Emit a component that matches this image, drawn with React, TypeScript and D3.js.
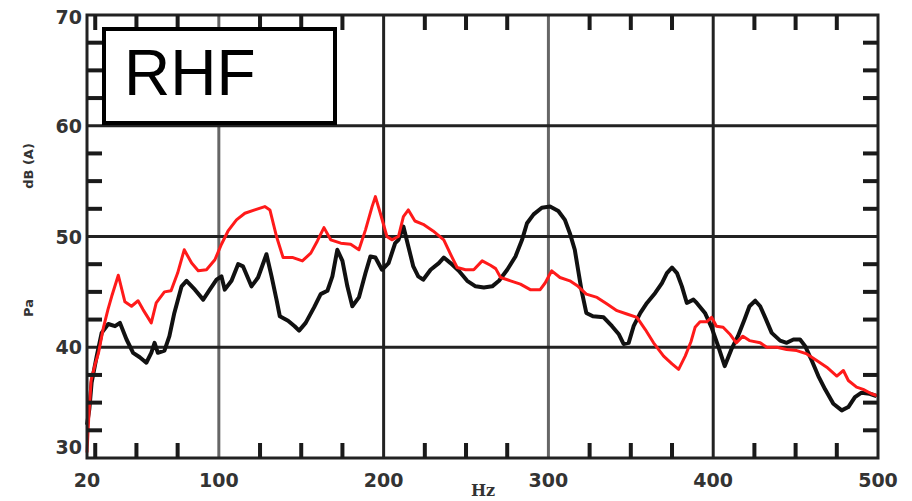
import React from "react";
import * as d3 from "d3";

// red trace (Hz, dB(A))
const redHz = [20, 21, 22.5, 25, 27, 30, 32.7, 35, 39, 43, 47, 51, 54, 59, 62, 67, 71, 75, 79, 83.5, 87.5, 92.5, 97.6, 101.6, 105.6, 110.7, 115.8, 121.8, 127.9, 131, 135, 139, 145, 150.7, 155.8, 159.8, 163.8, 167.9, 174, 180, 185, 189, 193, 195, 198, 202, 205, 209, 212, 215, 219, 224, 230, 236.5, 240.6, 244.6, 249.7, 254.7, 259.8, 264.8, 268, 271, 277, 283, 289, 295, 298, 302, 307, 313, 318, 323, 329.5, 335.6, 341.6, 347.6, 353.7, 358.8, 363.8, 369.9, 375, 379, 383, 386.5, 389, 392, 396, 399, 402, 406, 410, 414, 418, 422, 428.5, 432.5, 438.6, 444.6, 450.7, 456.8, 462.8, 468.9, 475, 479, 482, 487, 491, 496, 500];
const redDb = [30.5, 33.5, 37, 38.5, 39.5, 41.8, 43.4, 44.6, 46.5, 44.1, 43.7, 44.2, 43.4, 42.2, 44.0, 45.0, 45.1, 46.7, 48.8, 47.6, 46.9, 47.0, 47.9, 49.3, 50.5, 51.5, 52.1, 52.4, 52.7, 52.4, 50.0, 48.1, 48.1, 47.8, 48.5, 49.6, 50.8, 49.7, 49.4, 49.3, 48.8, 50.6, 52.7, 53.6, 52.1, 50.0, 49.7, 50.0, 51.8, 52.4, 51.4, 51.1, 50.5, 49.7, 48.4, 47.2, 47.0, 47.0, 47.8, 47.4, 47.1, 46.3, 46.0, 45.7, 45.2, 45.2, 45.8, 46.9, 46.3, 46.0, 45.5, 44.8, 44.5, 43.9, 43.3, 43.0, 42.7, 41.6, 40.4, 39.2, 38.5, 38.0, 39.2, 40.5, 41.8, 42.3, 42.3, 42.7, 41.9, 41.8, 41.2, 40.4, 41.0, 40.6, 40.4, 40.0, 40.0, 39.8, 39.7, 39.4, 38.8, 38.2, 37.4, 37.9, 37.0, 36.4, 36.2, 35.8, 35.6];

// black trace (Hz, dB(A))
const blackHz = [20, 21.4, 22.8, 25.9, 28.9, 32.9, 37, 40, 44, 48, 52, 56, 59, 61, 63, 67, 70, 73, 77.4, 80.4, 85.5, 90.5, 94.5, 98.6, 101.6, 103.6, 107.7, 111.7, 114.7, 119.8, 123.8, 128.9, 132, 135, 137, 142, 146, 148.7, 152.7, 157.8, 161.8, 165.9, 168.9, 171.9, 175, 178, 181, 185, 189, 192, 195, 199, 203, 207, 209, 212, 215, 218, 221, 224, 228.5, 233.5, 236.5, 240.6, 245.6, 250.7, 255.8, 260.8, 265.9, 270, 275, 280, 284, 287, 291, 296, 301, 306, 310, 313, 316, 318, 320, 323, 327, 333.5, 338.6, 342.6, 345.6, 348.7, 351.7, 355.8, 359.8, 364.8, 368.9, 371.9, 375, 378, 381, 384, 388, 390, 395, 399, 403, 407, 411, 415, 419, 422, 425.5, 428.5, 431.5, 435.5, 440.6, 444.6, 448.7, 452.7, 455.8, 459.8, 463.8, 467.9, 472.9, 478, 482, 486, 490, 495, 499];
const blackDb = [33.0, 34.4, 36.8, 39.2, 41.3, 42.1, 41.9, 42.2, 40.7, 39.5, 39.1, 38.6, 39.5, 40.4, 39.5, 39.7, 41.0, 43.1, 45.5, 46.0, 45.2, 44.3, 45.2, 46.1, 46.4, 45.2, 46.0, 47.5, 47.3, 45.5, 46.3, 48.4, 46.4, 44.3, 42.8, 42.4, 41.9, 41.5, 42.2, 43.6, 44.8, 45.1, 46.4, 48.8, 47.8, 45.5, 43.7, 44.5, 46.7, 48.2, 48.1, 47.0, 47.6, 49.4, 49.7, 50.9, 49.1, 47.3, 46.4, 46.1, 47.0, 47.6, 48.1, 47.6, 46.9, 46.0, 45.5, 45.4, 45.5, 46.0, 47.0, 48.2, 49.7, 51.2, 52.0, 52.6, 52.7, 52.3, 51.5, 50.3, 48.8, 47.0, 45.2, 43.1, 42.8, 42.7, 41.9, 41.2, 40.3, 40.4, 41.9, 43.1, 44.0, 44.9, 45.8, 46.7, 47.2, 46.7, 45.5, 44.0, 44.3, 44.0, 43.1, 41.8, 40.1, 38.3, 39.8, 41.0, 42.5, 43.7, 44.2, 43.7, 42.7, 41.3, 40.6, 40.4, 40.7, 40.7, 40.1, 38.8, 37.4, 36.2, 34.9, 34.3, 34.6, 35.5, 35.9, 35.8, 35.6];

const xTickLabels = [20, 100, 200, 300, 400, 500];
const yTickLabels = [30, 40, 50, 60, 70];
const xGrid = [100, 200, 300, 400];
const yGrid = [40, 50, 60];
const xMinor = [25, 50, 75, 125, 150, 175, 225, 250, 275, 325, 350, 375, 425, 450, 475];
const yMinor = [32.5, 35, 37.5, 42.5, 45, 47.5, 52.5, 55, 57.5, 62.5, 65, 67.5];

const W = 912, H = 501;

const App = () => {
  const x = d3.scaleLinear().domain([20, 500]).range([87, 878]);
  const y = d3.scaleLinear().domain([30, 70]).range([458, 15]);
  const line = d3.line().x(d => x(d[0])).y(d => y(d[1]));
  const blackPath = line(blackHz.map((h, i) => [h, blackDb[i]]));
  const redPath = line(redHz.map((h, i) => [h, redDb[i]]));

  const tickColor = "#1a1a1a";
  const tw = 4;   // tick thickness
  const tl = 15;  // tick length

  return (
    <svg width={W} height={H} style={{ position: "absolute", left: 0, top: 0 }}>
      <rect width={W} height={H} fill="#fff" />

      {/* grid */}
      {xGrid.map(d => (
        <line key={"gx" + d} x1={x(d)} x2={x(d)} y1={y(70)} y2={y(30)}
          stroke={d % 200 === 0 ? "#222" : "#666"} strokeWidth={3} />
      ))}
      {yGrid.map(d => (
        <line key={"gy" + d} x1={x(20)} x2={x(500)} y1={y(d)} y2={y(d)}
          stroke="#222" strokeWidth={3} />
      ))}

      {/* traces */}
      <path d={blackPath} fill="none" stroke="#111" strokeWidth={4} strokeLinejoin="round" />
      <path d={redPath} fill="none" stroke="#ff1a1a" strokeWidth={3} strokeLinejoin="round" />

      {/* frame */}
      <rect x={x(20)} y={y(70)} width={x(500) - x(20)} height={y(30) - y(70)}
        fill="none" stroke="#222" strokeWidth={3} />

      {/* minor ticks, drawn on top of everything in the plot */}
      {xMinor.map(d => (
        <React.Fragment key={"tx" + d}>
          <rect x={x(d) - tw / 2} y={y(30) - tl} width={tw} height={tl} fill={tickColor} />
          <rect x={x(d) - tw / 2} y={y(70)} width={tw} height={tl} fill={tickColor} />
        </React.Fragment>
      ))}
      {yMinor.map(d => (
        <React.Fragment key={"ty" + d}>
          <rect x={x(20)} y={y(d) - tw / 2} width={tl} height={tw} fill={tickColor} />
          <rect x={x(500) - tl} y={y(d) - tw / 2} width={tl} height={tw} fill={tickColor} />
        </React.Fragment>
      ))}

      {/* tick labels */}
      <g fontFamily="DejaVu Sans" fontWeight="bold" fontSize={19} fill="#333">
        {yTickLabels.map(d => (
          <text key={"ly" + d} x={82} y={d === 30 ? 454 : d === 70 ? 24 : y(d) + 7} textAnchor="end">{d}</text>
        ))}
        {xTickLabels.map(d => (
          <text key={"lx" + d} x={x(d)} y={487} textAnchor="middle">{d}</text>
        ))}
      </g>

      <text x={483} y={496} textAnchor="middle" fontFamily="DejaVu Serif" fontWeight="bold"
        fontSize={16} fill="#333">Hz</text>

      <g fontFamily="DejaVu Sans" fontWeight="bold" fontSize={13} fill="#333" textAnchor="middle">
        <text transform="translate(33,308) rotate(-90)">Pa</text>
        <text transform="translate(33,166) rotate(-90)">dB (A)</text>
      </g>

      {/* RHF box */}
      <rect x={104} y={29} width={231} height={94} fill="#fff" stroke="#000" strokeWidth={4} />
      <text x={124} y={95} fontFamily="Liberation Sans, Arial" fontSize={64} fill="#000">RHF</text>
    </svg>
  );
};

export default App;
